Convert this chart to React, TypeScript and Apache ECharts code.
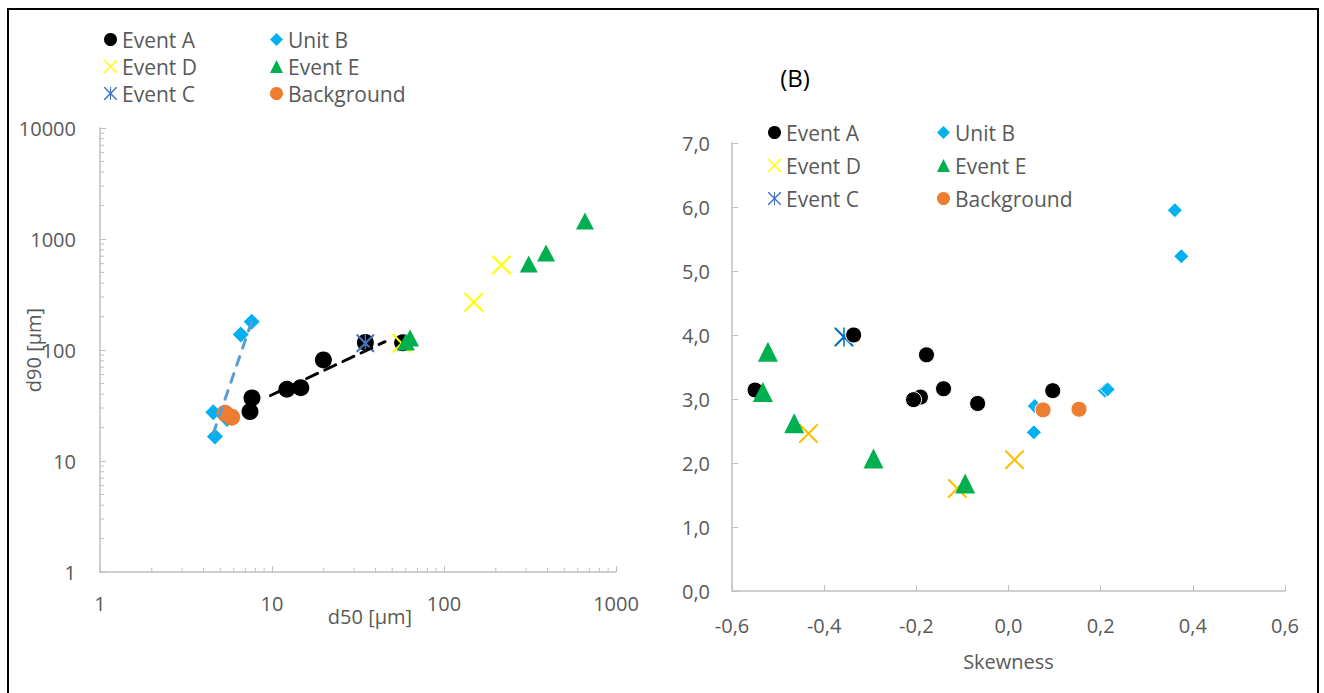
import React, { useEffect, useRef } from "react";
import * as echarts from "echarts";

// ---------- Data: left panel (d50 vs d90, µm) ----------
const eventA_L = [[7.65, 37.0], [7.45, 27.9], [12.2, 44.3], [14.7, 45.8], [19.9, 81.3], [34.9, 117], [57.5, 116]];
const unitB_L = [[7.62, 180], [6.58, 138], [4.56, 27.5], [4.66, 16.6], [5.48, 23.9]];
const eventD_L = [[216, 583], [149, 269], [56.8, 115]];
const eventE_L = [[660, 1452], [392, 748], [311, 595], [63.5, 128], [60.1, 118]];
const eventC_L = [[34.9, 115]];
const background_L = [[5.33, 26.9], [5.83, 24.8]];
const trendA_L = [[9.8, 38.9], [45.4, 118.8]];
const trendB_L = [[4.56, 17.8], [7.62, 180]];
const minorTicksX = [2, 3, 4, 5, 6, 7, 8, 9, 20, 30, 40, 50, 60, 70, 80, 90, 200, 300, 400, 500, 600, 700, 800, 900];
const minorTicksY = [2, 3, 4, 5, 6, 7, 8, 9, 20, 30, 40, 50, 60, 70, 80, 90, 200, 300, 400, 500, 600, 700, 800, 900, 2000, 3000, 4000, 5000, 6000, 7000, 8000, 9000];

// ---------- Data: right panel (Skewness vs Sorting) ----------
const eventA_R = [[-0.55, 3.14], [-0.336, 4.0], [-0.178, 3.69], [-0.191, 3.03], [-0.206, 2.99], [-0.141, 3.16], [-0.067, 2.93], [0.096, 3.13]];
const unitB_R = [[0.361, 5.95], [0.375, 5.23], [0.209, 3.13], [0.215, 3.15], [0.057, 2.89], [0.055, 2.48]];
const eventD_R = [[-0.434, 2.46], [-0.111, 1.6], [0.013, 2.05]];
const eventE_R = [[-0.522, 3.74], [-0.533, 3.11], [-0.465, 2.62], [-0.293, 2.07], [-0.094, 1.68]];
const eventC_R = [[-0.357, 3.97]];
const background_R = [[0.075, 2.83], [0.153, 2.84]];

const FONT = "Open Sans";
const GRAY = "#595959";
const AXIS = "#BFBFBF";

const d = 1.6;
const X_PATH = `path://M0,0L${d},0L10,${10 - d}L${20 - d},0L20,0L20,${d}L${10 + d},10L20,${20 - d}L20,20L${20 - d},20L10,${10 + d}L${d},20L0,20L0,${20 - d}L${10 - d},10L0,${d}Z`;
const STAR_PATH = `${X_PATH}M9.2,0L10.8,0L10.8,20L9.2,20Z`;

const leftCols = [["Event A", "Event D", "Event C"], ["Unit B", "Event E", "Background"]];
const legendIcons: Record<string, any> = {
  "Event A": { icon: "circle", color: "#000000" },
  "Event D": { icon: X_PATH, color: "#FFFF00" },
  "Event C": { icon: STAR_PATH, color: "#4472C4" },
  "Unit B": { icon: "diamond", color: "#00B0F0" },
  "Event E": { icon: "triangle", color: "#00B050" },
  "Background": { icon: "circle", color: "#ED7D31" },
};

const fmtComma = (v: number) => (Math.abs(v) < 1e-9 ? 0 : v).toFixed(1).replace(".", ",");
const fmtPlain = (v: number) => String(Math.round(v));

function legend(left: number, top: number, gap: number, names: string[]) {
  return {
    show: true,
    orient: "vertical",
    left,
    top,
    itemGap: gap,
    itemWidth: 13,
    itemHeight: 13,
    selectedMode: false,
    padding: 0,
    textStyle: { fontFamily: FONT, fontSize: 21, color: GRAY, lineHeight: 20 },
    data: names.map((n) => ({ name: n, icon: legendIcons[n].icon, itemStyle: { color: legendIcons[n].color, borderWidth: 0 } })),
  };
}

function scatter(name: string, data: number[][], axis: number, symbol: string, size: any, color: string, border = false) {
  return {
    type: "scatter",
    name,
    data,
    xAxisIndex: axis,
    yAxisIndex: axis,
    symbol,
    symbolSize: size,
    itemStyle: border ? { color, borderColor: "#ffffff", borderWidth: 1, opacity: 1 } : { color, opacity: 1 },
    z: 3,
  };
}

export default function App() {
  const ref = useRef<HTMLDivElement>(null);
  useEffect(() => {
    if (!ref.current) return;
    const chart = echarts.init(ref.current, null, { renderer: "svg" });
    const tickLabel = { fontFamily: FONT, fontSize: 20, color: GRAY };
    const axisLine = { show: true, onZero: false, lineStyle: { color: AXIS, width: 1.5 } };
    const option: any = {
      animation: false,
      backgroundColor: "#ffffff",
      legend: [
        legend(104, 29, 6, leftCols[0]),
        legend(270, 29, 6, leftCols[1]),
        legend(768, 122, 12, leftCols[0]),
        legend(937, 122, 12, leftCols[1]),
      ],
      grid: [
        { left: 100, right: 708, top: 128, bottom: 121, outerBoundsMode: "none", containLabel: false },
        { left: 732, right: 39, top: 143, bottom: 102, outerBoundsMode: "none", containLabel: false },
      ],
      xAxis: [
        {
          type: "log", gridIndex: 0, logBase: 10, min: 1, max: 1000,
          axisLine, splitLine: { show: false },
          axisTick: { show: true, inside: true, length: 6, lineStyle: { color: AXIS } },
          axisLabel: { ...tickLabel, margin: 21, formatter: fmtPlain },
          name: "d50 [µm]", nameLocation: "middle", nameGap: 34, nameMoveOverlap: false,
          nameTextStyle: { fontFamily: FONT, fontSize: 20, color: GRAY, padding: [0, 0, 0, 24] },
        },
        {
          type: "value", gridIndex: 1, min: -0.6, max: 0.6, interval: 0.2,
          axisLine, splitLine: { show: false },
          axisTick: { show: true, inside: true, length: 6, lineStyle: { color: AXIS } },
          axisLabel: { ...tickLabel, margin: 24, formatter: fmtComma },
          name: "Skewness", nameLocation: "middle", nameGap: 60, nameMoveOverlap: false,
          nameTextStyle: { fontFamily: FONT, fontSize: 20, color: GRAY },
        },
      ],
      yAxis: [
        {
          type: "log", gridIndex: 0, logBase: 10, min: 1, max: 10000,
          axisLine, splitLine: { show: false },
          axisTick: { show: true, inside: true, length: 6, lineStyle: { color: AXIS } },
          axisLabel: { ...tickLabel, margin: 24, formatter: fmtPlain },
          name: "d90 [µm]", nameLocation: "middle", nameGap: 57, nameRotate: 90, nameMoveOverlap: false,
          nameTextStyle: { fontFamily: FONT, fontSize: 20, color: GRAY },
        },
        {
          type: "value", gridIndex: 1, min: 0, max: 7, interval: 1,
          axisLine, splitLine: { show: false },
          axisTick: { show: true, inside: true, length: 6, lineStyle: { color: AXIS } },
          axisLabel: { ...tickLabel, margin: 22, formatter: fmtComma },
        },
      ],
      graphic: [
        { type: "rect", shape: { x: 8, y: 9, width: 1310, height: 720 }, style: { fill: "none", stroke: "#000", lineWidth: 2 }, silent: true },
        { type: "text", x: 795, y: 77, style: { text: "(B)", font: `24px "${FONT}"`, fill: "#000", align: "center", verticalAlign: "middle" } },
      ],
      series: [
        {
          type: "custom", xAxisIndex: 0, yAxisIndex: 0, silent: true, z: 1,
          data: minorTicksX.map((v) => [v, 1]),
          renderItem: (_p: any, api: any) => {
            const pt = api.coord([api.value(0), api.value(1)]);
            return { type: "line", shape: { x1: pt[0], y1: pt[1], x2: pt[0], y2: pt[1] - 4 }, style: { stroke: AXIS, lineWidth: 1 } };
          },
        },
        {
          type: "custom", xAxisIndex: 0, yAxisIndex: 0, silent: true, z: 1,
          data: minorTicksY.map((v) => [1, v]),
          renderItem: (_p: any, api: any) => {
            const pt = api.coord([api.value(0), api.value(1)]);
            return { type: "line", shape: { x1: pt[0], y1: pt[1], x2: pt[0] + 4, y2: pt[1] }, style: { stroke: AXIS, lineWidth: 1 } };
          },
        },
        // left panel
        scatter("Event A", eventA_L, 0, "circle", 17, "#000000"),
        scatter("Unit B", unitB_L, 0, "diamond", 16, "#00B0F0"),
        scatter("Event D", eventD_L, 0, X_PATH, 19, "#FFFF00"),
        scatter("Event E", eventE_L, 0, "triangle", [18, 17], "#00B050"),
        scatter("Event C", eventC_L, 0, STAR_PATH, 18, "#4472C4"),
        scatter("Background", background_L, 0, "circle", 17, "#ED7D31"),
        {
          type: "line", name: "trendA", data: trendA_L, xAxisIndex: 0, yAxisIndex: 0, symbol: "none", z: 4,
          lineStyle: { color: "#000000", width: 3, type: [12, 8], cap: "round" },
        },
        {
          type: "line", name: "trendB", data: trendB_L, xAxisIndex: 0, yAxisIndex: 0, symbol: "none", z: 4,
          lineStyle: { color: "#5B9BD5", width: 3, type: [9, 9], cap: "round" },
        },
        // right panel
        scatter("Event C", eventC_R, 1, STAR_PATH, 19, "#0070C0"),
        scatter("Event A", eventA_R, 1, "circle", 16, "#000000", true),
        scatter("Unit B", unitB_R, 1, "diamond", 15, "#00B0F0", true),
        scatter("Event D", eventD_R, 1, X_PATH, 19, "#FFC000"),
        scatter("Event E", eventE_R, 1, "triangle", [20, 20], "#00B050"),
        scatter("Background", background_R, 1, "circle", 16, "#ED7D31", true),
      ],
    };
    chart.setOption(option);
    return () => chart.dispose();
  }, []);
  return <div ref={ref} style={{ position: "absolute", left: 0, top: 0, width: 1324, height: 693 }} />;
}
